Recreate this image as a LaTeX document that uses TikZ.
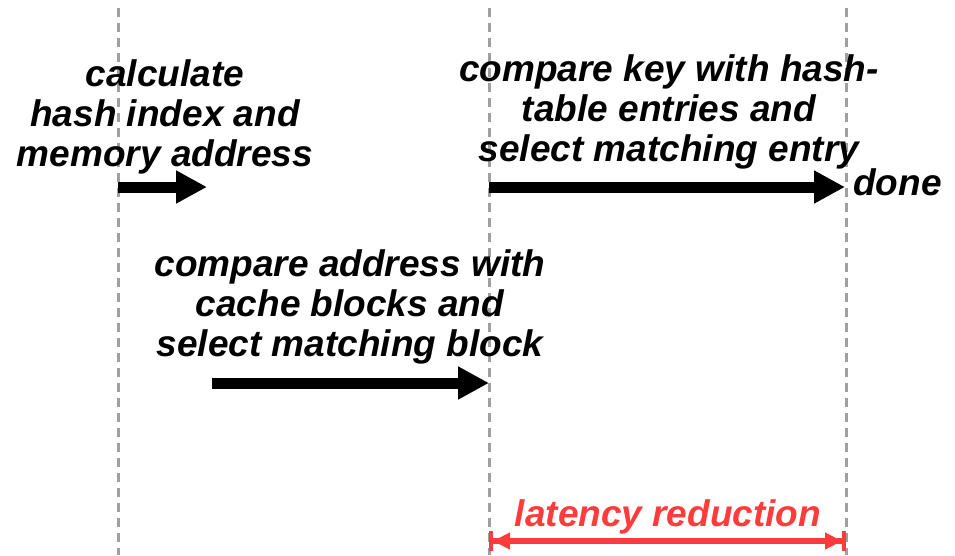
\documentclass[tikz,border=0pt]{standalone}
\usepackage{fontspec}
\setmainfont{Liberation Sans}
\usetikzlibrary{arrows.meta}
\definecolor{guidegray}{RGB}{160,160,160}
\definecolor{latred}{RGB}{255,59,59}
\begin{document}
\begin{tikzpicture}[x=1pt,y=-1pt,
  lbl/.style={font=\fontsize{37}{40}\selectfont\bfseries\itshape, align=center, inner sep=0pt, anchor=base},
  guide/.style={draw=guidegray, line width=3pt, dash pattern=on 9pt off 6pt},
  stage/.style={line width=11pt, -{Triangle[length=31pt,width=31pt]}},
  span/.style={draw=latred, line width=6pt,
    {Bar[width=20pt,line width=4pt]Triangle[length=17pt,width=16pt]}-{Triangle[length=17pt,width=16pt]Bar[width=20pt,line width=4pt]}}
]
\useasboundingbox (0,0) rectangle (955,555);

% time markers
\coordinate (t0top) at (118,8);   \coordinate (t0bot) at (118,555);
\coordinate (t1top) at (489,8);   \coordinate (t1bot) at (489,555);
\coordinate (t2top) at (846,8);   \coordinate (t2bot) at (846,555);
\draw[guide] (t0top) -- (t0bot);
\draw[guide] (t1top) -- (t1bot);
\draw[guide] (t2top) -- (t2bot);

% stage arrows
\coordinate (hashS) at (118,187);  \coordinate (hashE) at (207,187);
\coordinate (cmpS)  at (489,187);  \coordinate (cmpE)  at (845,187);
\coordinate (cacheS) at (212,383); \coordinate (cacheE) at (489,383);
\draw[stage] (hashS) -- (hashE);
\draw[stage] (cmpS) -- (cmpE);
\draw[stage] (cacheS) -- (cacheE);

% labels (anchored at the baseline of their last line)
\node[lbl] (hashlbl) at (165,166) {calculate\\hash index and\\memory address};
\node[lbl] (cmplbl) at (669,161) {compare key with hash-\\table entries and\\select matching entry};
\node[lbl] (cachelbl) at (350,356) {compare address with\\cache blocks and\\select matching block};
\node[lbl, anchor=base west] (done) at (853,195) {done};

% latency reduction span
\coordinate (redS) at (489,541); \coordinate (redE) at (846,541);
\draw[span] (redS) -- (redE);
\node[lbl, text=latred] (redlbl) at (668,526) {latency reduction};
\end{tikzpicture}
\end{document}
